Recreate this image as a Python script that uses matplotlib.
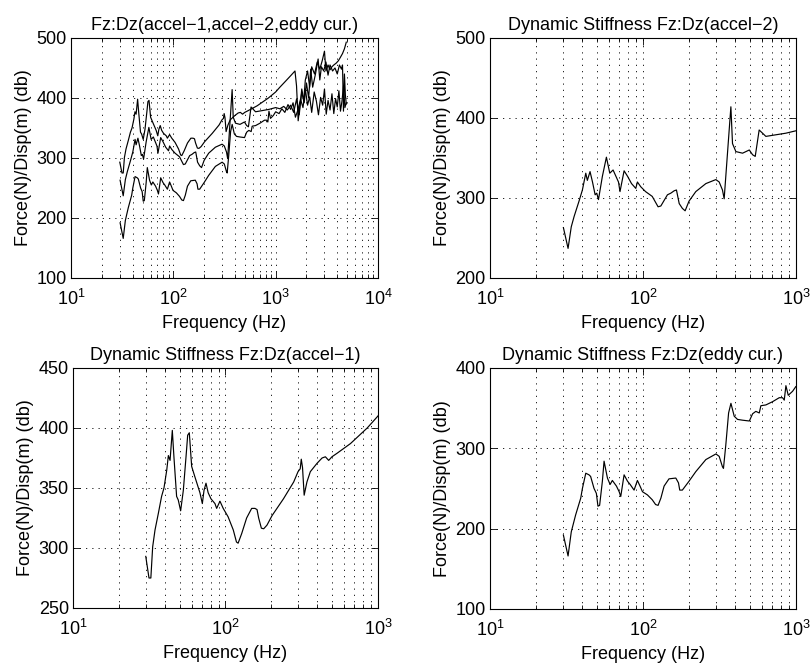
import matplotlib
matplotlib.use("Agg")
from matplotlib import pyplot as plt

plt.rcParams['font.family'] = ['Liberation Sans', 'DejaVu Sans']
plt.rcParams['mathtext.default'] = 'regular'

# accel-1 dynamic stiffness
f_acc1 = [30, 31.5, 32.4, 33.3, 34.5, 36.3, 38.1, 39.5, 41.2, 42.2, 43.3, 44.8, 45.9, 47.8, 49,
          50.8, 52.9, 55.1, 56.5, 57.9, 60, 63.1, 68, 70.5, 72.3, 74.5, 77, 80.3, 85.3, 87.5, 92,
          96.6, 104, 112.5, 118, 121, 127.7, 137.6, 148.5, 156, 161, 165, 171.9, 178, 187, 202,
          240, 280, 299, 309, 314, 320, 328, 342, 360, 398, 430, 452, 475, 499, 540, 660, 850,
          1000, 1100, 1250, 1400, 1545, 1600, 1660, 1720, 1800, 1880, 1950, 2050, 2150, 2250,
          2400, 2550, 2700, 2850, 3000, 3100, 3250, 3400, 3550, 3700, 3900, 4100, 4300, 4500,
          4700, 4900]
db_acc1 = [293, 275, 275, 301, 315, 329, 343, 350, 365, 377, 373, 398, 376, 343, 340,
           331, 348, 376, 394, 396, 368, 359, 346, 337, 348, 354, 346, 341, 337, 333, 339,
           333, 326, 315, 305, 304, 312, 325, 333, 333, 332, 325, 316.5, 316, 319, 327,
           341, 355, 363.6, 366, 374, 367, 344, 355, 363.6, 370.5, 375, 376, 373, 376, 379, 387, 400,
           410, 418, 428, 437, 445, 420, 362, 385, 410, 395, 430, 445, 418, 452,
           440, 460, 448, 462, 478, 445, 455, 447, 452, 455, 458, 462, 468, 474,
           482, 493]

# accel-2 dynamic stiffness
f_acc2 = [30.2, 32.4, 34, 35.5, 38.2, 40.2, 42.3, 43.3, 45.1, 46.8, 48.7, 49.9, 51.2, 54.3, 57.7,
          60.7, 63.8, 69.2, 70.8, 75.3, 79.4, 84.2, 89.8, 92, 96.8, 104, 115, 125.6, 130.9, 144.6,
          152, 160, 165.6, 172.6, 181, 188.7, 200, 221.6, 257.8, 299.6, 315, 331, 339.6, 357,
          375.7, 385, 405, 448, 495.6, 521, 542, 575, 605, 636, 740, 860,
          1000, 1100, 1200, 1300, 1400, 1500, 1600, 1700, 1800, 1900, 2000, 2100, 2200, 2300,
          2450, 2600, 2700, 2800, 2950, 3100, 3250, 3400, 3600, 3800, 4000, 4200, 4400, 4500,
          4600, 4700, 4800, 4900]
db_acc2 = [263, 237, 264, 277, 296, 310, 331, 322, 333, 320, 304, 306, 298, 327, 351,
           331, 335, 320, 308, 334, 327, 318, 312, 320, 314, 308, 302, 289, 290, 304,
           306, 309, 310, 293, 287, 284, 296, 308, 318, 323, 320, 310, 299, 356,
           414, 368, 358, 356, 360, 354, 352, 385, 381, 377, 379, 381,
           384, 382, 386, 380, 388, 376, 398, 372, 415, 392, 425, 400, 448, 418,
           440, 465, 430, 452, 445, 460, 438, 455, 445, 450, 440, 455, 448, 455,
           378, 440, 405, 390]

# eddy current probe dynamic stiffness
f_eddy = [30.2, 32.4, 34, 36.3, 39.2, 40.2, 42.3, 44.4, 45.5, 47.9, 49.6, 50.8, 52.1, 54.3, 55.7,
          58.6, 61, 63.1, 67.1, 69.9, 71.6, 75.3, 79.3, 82.5, 87.5, 92, 95.7, 99.3, 107, 115, 121,
          125.6, 131, 137.5, 148, 164, 170.7, 174, 181, 200, 221.6, 257.8, 300, 315, 331, 336,
          348, 363, 376, 395, 415, 448, 496, 521, 547, 576, 590, 636, 703, 778, 818, 839, 860,
          891, 951, 1000, 1080, 1150, 1230, 1320, 1400, 1480, 1560, 1650, 1750, 1850, 1950,
          2050, 2150, 2250, 2380, 2500, 2620, 2750, 2880, 3000, 3120, 3250, 3400, 3550, 3700,
          3850, 4000, 4150, 4300, 4450, 4600, 4750, 4900]
db_eddy = [192, 166, 196, 217, 238, 250, 269, 267, 265, 250, 244, 228, 229, 259, 284,
           263, 255, 260, 253, 246, 240, 267, 259, 255, 248, 260, 253, 246, 242, 236, 230,
           229, 238, 253, 262, 263, 257, 248, 248, 259, 271, 286, 293, 290, 277, 275,
           304, 344, 356, 340, 336, 335, 334, 343, 346, 344, 353, 354, 358, 363, 363, 360, 378,
           366, 371, 377, 374, 382, 376, 389, 381, 392, 368, 380, 398, 384, 415,
           388, 402, 376, 410, 395, 372, 401, 388, 415, 373, 396, 380, 407, 374,
           399, 385, 412, 378, 395, 420, 384, 392]

fig = plt.figure(figsize=(8.12, 6.71), dpi=100)


def setup(ax, title, xlim, ylim, yticks):
    ax.set_xscale('log')
    ax.set_xlim(xlim)
    ax.set_ylim(ylim)
    ax.set_yticks(yticks)
    ax.set_title(title, fontsize=13, pad=6)
    ax.set_xlabel('Frequency (Hz)', fontsize=13, labelpad=4)
    ax.set_ylabel('Force(N)/Disp(m) (db)', fontsize=13, labelpad=3)
    ax.tick_params(which='both', direction='in', top=True, right=True, labelsize=13, width=0.6)
    ax.tick_params(which='major', length=5, pad=3)
    ax.tick_params(which='minor', length=3)
    ax.tick_params(axis='x', which='major', pad=8)
    ax.xaxis.grid(True, which='both', linestyle=(0, (1.5, 6)), color='k', linewidth=0.6)
    ax.yaxis.grid(True, which='major', linestyle=(0, (1.5, 6)), color='k', linewidth=0.6)
    for s in ax.spines.values():
        s.set_linewidth(0.8)


ax1 = fig.add_axes([0.0874, 0.5857, 0.3781, 0.3577])
ax1.plot(f_acc1, db_acc1, 'k-', lw=0.85)
ax1.plot(f_acc2, db_acc2, 'k-', lw=0.85)
ax1.plot(f_eddy, db_eddy, 'k-', lw=0.85)
setup(ax1, 'Fz:Dz(accel\u22121,accel\u22122,eddy cur.)', (10, 1e4), (100, 500), range(100, 501, 100))

ax2 = fig.add_axes([0.6034, 0.5857, 0.3768, 0.3577])
ax2.plot(f_acc2, db_acc2, 'k-', lw=0.85)
setup(ax2, 'Dynamic Stiffness Fz:Dz(accel\u22122)', (10, 1000), (200, 500), range(200, 501, 100))

ax3 = fig.add_axes([0.0899, 0.0939, 0.3756, 0.3577])
ax3.plot(f_acc1, db_acc1, 'k-', lw=0.85)
setup(ax3, 'Dynamic Stiffness Fz:Dz(accel\u22121)', (10, 1000), (250, 450), range(250, 451, 50))

ax4 = fig.add_axes([0.6034, 0.0924, 0.3768, 0.3592])
ax4.plot(f_eddy, db_eddy, 'k-', lw=0.85)
setup(ax4, 'Dynamic Stiffness Fz:Dz(eddy cur.)', (10, 1000), (100, 400), range(100, 401, 100))

fig.savefig('out.png', dpi=100)
